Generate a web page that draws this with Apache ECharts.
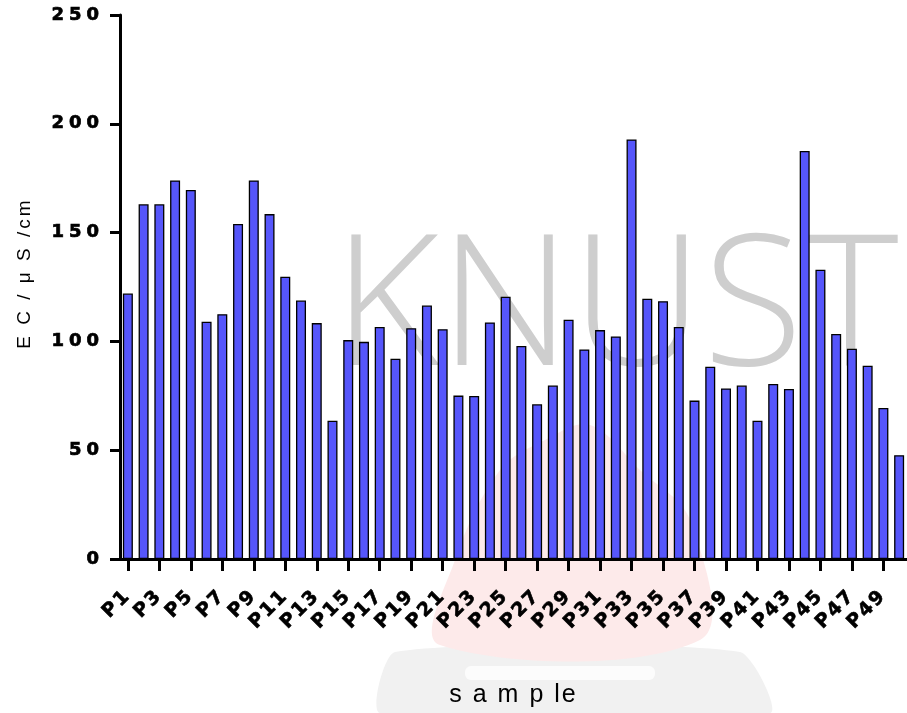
<!DOCTYPE html>
<html>
<head>
<meta charset="utf-8">
<script src="https://cdn.jsdelivr.net/npm/echarts@6/dist/echarts.min.js"></script>
<style>
html,body{margin:0;padding:0;background:#fff;}
#chart{width:907px;height:713px;}
</style>
</head>
<body>
<div id="chart"></div>
<script>
// ---- data ----
const categories = ["P1","P2","P3","P4","P5","P6","P7","P8","P9","P10",
  "P11","P12","P13","P14","P15","P16","P17","P18","P19","P20",
  "P21","P22","P23","P24","P25","P26","P27","P28","P29","P30",
  "P31","P32","P33","P34","P35","P36","P37","P38","P39","P40",
  "P41","P42","P43","P44","P45","P46","P47","P48","P49","P50"];
const ecValues = [122, 163, 163, 174, 169.6, 109, 112.5, 154, 174, 158.5,
  129.7, 118.8, 108.4, 63.5, 100.6, 99.8, 106.6, 92, 106.1, 116.5,
  105.6, 75.1, 74.9, 108.7, 120.5, 97.9, 71.1, 79.7, 110, 96.3,
  105.2, 102.3, 192.8, 119.6, 118.5, 106.6, 72.8, 88.4, 78.4, 79.7,
  63.5, 80.4, 78.1, 187.5, 132.9, 103.4, 96.6, 88.8, 69.4, 47.7];
const yTicks = [0, 50, 100, 150, 200, 250];
const xTitle = "s a m p le";
const yTitle = "E C / μ S /cm";
const watermark = "KNUST";

// character spacing like the original figure
const origFill = CanvasRenderingContext2D.prototype.fillText;
const origStroke = CanvasRenderingContext2D.prototype.strokeText;
function spacingFor(f) {
  if (/\b18px/.test(f) && /bold|700/.test(f)) return '5px';
  if (/\b19px/.test(f) && /bold|700/.test(f)) return '2px';
  if (/\b19px/.test(f)) return '3px';
  if (/\b25px/.test(f)) return '2px';
  return '0px';
}
CanvasRenderingContext2D.prototype.fillText = function (t, x, y, m) {
  try { this.letterSpacing = spacingFor(this.font || ''); } catch (e) {}
  return m === undefined ? origFill.call(this, t, x, y) : origFill.call(this, t, x, y, m);
};
CanvasRenderingContext2D.prototype.strokeText = function (t, x, y, m) {
  try { this.letterSpacing = spacingFor(this.font || ''); } catch (e) {}
  return m === undefined ? origStroke.call(this, t, x, y) : origStroke.call(this, t, x, y, m);
};

const chart = echarts.init(document.getElementById('chart'), null, {renderer: 'canvas'});
const option = {
  animation: false,
  backgroundColor: '#ffffff',
  graphic: [
    {type: 'polygon', z: -10, silent: true,
      shape: {points: [[395, 652], [740, 652], [770, 713], [380, 713]], smooth: 0.2},
      style: {fill: '#f1f1f1'}},
    {type: 'rect', z: -9, silent: true,
      shape: {x: 465, y: 666, width: 190, height: 14, r: 6},
      style: {fill: '#fcfcfc'}},
    {type: 'polygon', z: -9, silent: true,
      shape: {points: [[500, 470], [545, 440], [590, 425], [640, 470], [690, 520], [700, 640], [440, 645], [455, 560]], smooth: 0.35},
      style: {fill: '#fdeaea'}},
    {type: 'text', z: -8, silent: true,
      left: 333, top: 221,
      style: {text: watermark, fill: '#cecece', font: '300 183px "Open Sans", "Noto Sans", sans-serif'}}
  ],
  grid: {left: 120, right: -6, top: 15, bottom: 153, containLabel: false},
  xAxis: {
    type: 'category',
    data: categories,
    name: xTitle,
    nameLocation: 'middle',
    nameGap: 124,
    nameTextStyle: {color: '#000', fontSize: 25, fontFamily: 'Liberation Sans, Arial, sans-serif'},
    axisLine: {lineStyle: {color: '#000', width: 3}},
    axisTick: {show: true, interval: 1, alignWithLabel: true, length: 12, lineStyle: {color: '#000', width: 3}},
    axisLabel: {interval: 1, rotate: 45, margin: 34, color: '#000', fontSize: 19, fontWeight: 'bold',
      fontFamily: 'DejaVu Sans, sans-serif', textBorderColor: '#000', textBorderWidth: 0.6},
    splitLine: {show: false}
  },
  yAxis: {
    type: 'value',
    min: yTicks[0],
    max: yTicks[yTicks.length - 1],
    interval: 50,
    name: yTitle,
    nameLocation: 'middle',
    nameGap: 86,
    nameTextStyle: {color: '#000', fontSize: 19, fontFamily: 'Liberation Sans, Arial, sans-serif',
      padding: [0, 0, 0, 28]},
    axisLine: {show: true, lineStyle: {color: '#000', width: 3}},
    axisTick: {show: true, length: 10, lineStyle: {color: '#000', width: 3}},
    axisLabel: {margin: 16, color: '#000', fontSize: 18, fontWeight: 'bold', fontFamily: 'DejaVu Sans, sans-serif',
      textBorderColor: '#000', textBorderWidth: 0.7},
    splitLine: {show: false}
  },
  series: [{
    type: 'bar',
    data: ecValues,
    barWidth: 10,
    itemStyle: {color: '#5656fb', borderColor: '#000', borderWidth: 1.3}
  }]
};
chart.setOption(option);
</script>
</body>
</html>
